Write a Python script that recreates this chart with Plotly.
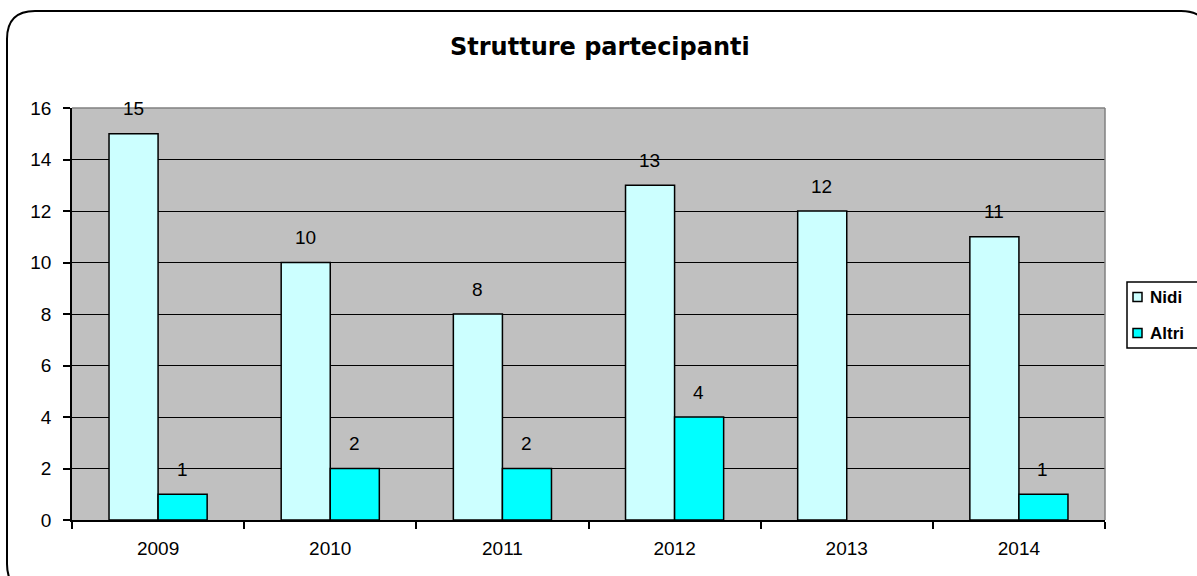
import plotly.graph_objects as go

# Chart data
anni = ["2009", "2010", "2011", "2012", "2013", "2014"]
nidi = [15, 10, 8, 13, 12, 11]
altri = [1, 2, 2, 4, None, 1]
serie_nomi = ["Nidi", "Altri"]
y_ticks = [0, 2, 4, 6, 8, 10, 12, 14, 16]

W, H = 1197, 576
L, R, T, B = 72, 92, 108, 56
PW, PH = W - L - R, H - T - B

COL_NIDI = "#CCFFFF"
COL_ALTRI = "#00FFFF"
FONT = "Liberation Sans, Arial, sans-serif"
FS = 19


def px(x):
    return (x - L) / PW


def py(y):
    return (H - B - y) / PH


fig = go.Figure()
fig.add_trace(go.Bar(x=anni, y=nidi, name=serie_nomi[0], marker=dict(color=COL_NIDI, line=dict(color="black", width=1.5))))
fig.add_trace(go.Bar(x=anni, y=altri, name=serie_nomi[1], marker=dict(color=COL_ALTRI, line=dict(color="black", width=1.5))))

annotations = []
for vals, shift in ((nidi, -25), (altri, 24)):
    for i, v in enumerate(vals):
        if v is None:
            continue
        annotations.append(dict(x=i, y=v, xref="x", yref="y", text=str(v), showarrow=False,
                                xshift=shift, yshift=25, yanchor="middle",
                                font=dict(family=FONT, size=FS, color="black")))

# Title
annotations.append(dict(x=px(600), y=py(47), xref="paper", yref="paper", yanchor="middle",
                        text="<b>Strutture partecipanti</b>", showarrow=False,
                        font=dict(family="DejaVu Sans, Verdana, sans-serif", size=24, color="black")))

# Legend entries
leg_x0, leg_y0, leg_x1, leg_y1 = 1127, 282, 1215, 348
for i, nome in enumerate(serie_nomi):
    cy = 297 + i * 36
    annotations.append(dict(x=px(1148), y=py(cy), xref="paper", yref="paper", xanchor="left", yanchor="middle",
                            text="<b>" + nome + "</b>", showarrow=False,
                            font=dict(family="Liberation Sans Narrow, Arial Narrow, sans-serif", size=17, color="black")))

shapes = []
# rounded outer frame
fx0, fy0, fx1, fy1, rr = 7, 11, 1209, 592, 28
frame = (f"M {px(fx0 + rr)},{py(fy0)} L {px(fx1 - rr)},{py(fy0)} "
         f"Q {px(fx1)},{py(fy0)} {px(fx1)},{py(fy0 + rr)} L {px(fx1)},{py(fy1 - rr)} "
         f"Q {px(fx1)},{py(fy1)} {px(fx1 - rr)},{py(fy1)} L {px(fx0 + rr)},{py(fy1)} "
         f"Q {px(fx0)},{py(fy1)} {px(fx0)},{py(fy1 - rr)} L {px(fx0)},{py(fy0 + rr)} "
         f"Q {px(fx0)},{py(fy0)} {px(fx0 + rr)},{py(fy0)} Z")
shapes.append(dict(type="path", path=frame, xref="paper", yref="paper", line=dict(color="black", width=2)))
# top and right plot border in gray
shapes.append(dict(type="line", xref="paper", yref="paper", x0=0, x1=1, y0=1, y1=1,
                   line=dict(color="#808080", width=1.5), layer="above"))
shapes.append(dict(type="line", xref="paper", yref="paper", x0=1, x1=1, y0=0, y1=1,
                   line=dict(color="#808080", width=1.5), layer="above"))
# legend box and swatches
shapes.append(dict(type="rect", xref="paper", yref="paper", x0=px(leg_x0), x1=px(leg_x1), y0=py(leg_y1), y1=py(leg_y0),
                   line=dict(color="black", width=1.5), fillcolor="white"))
for i, col in enumerate([COL_NIDI, COL_ALTRI]):
    cy = 297 + i * 36
    shapes.append(dict(type="rect", xref="paper", yref="paper", x0=px(1133), x1=px(1142), y0=py(cy + 4.5), y1=py(cy - 4.5),
                       line=dict(color="black", width=1.5), fillcolor=col))

fig.update_layout(
    width=W, height=H,
    margin=dict(l=L, r=R, t=T, b=B, pad=0),
    paper_bgcolor="white", plot_bgcolor="#C0C0C0",
    barmode="group", bargap=0.43, bargroupgap=0,
    showlegend=False,
    annotations=annotations, shapes=shapes,
    font=dict(family=FONT, size=FS, color="black"),
)
fig.update_xaxes(type="category", range=[-0.5, len(anni) - 0.5], showgrid=False, showline=True,
                 linecolor="black", linewidth=1.5,
                 ticks="outside", tickson="boundaries", ticklen=7, tickcolor="black", tickwidth=1.5,
                 ticklabelstandoff=10, tickfont=dict(family=FONT, size=FS))
fig.update_yaxes(range=[0, 16], tickvals=y_ticks, showgrid=True, gridcolor="black", gridwidth=1,
                 zeroline=False, showline=True, linecolor="black", linewidth=1.5,
                 ticks="outside", ticklen=7, tickcolor="black", tickwidth=1.5,
                 ticklabelstandoff=8, tickfont=dict(family=FONT, size=FS))

fig.write_html("out.html")
